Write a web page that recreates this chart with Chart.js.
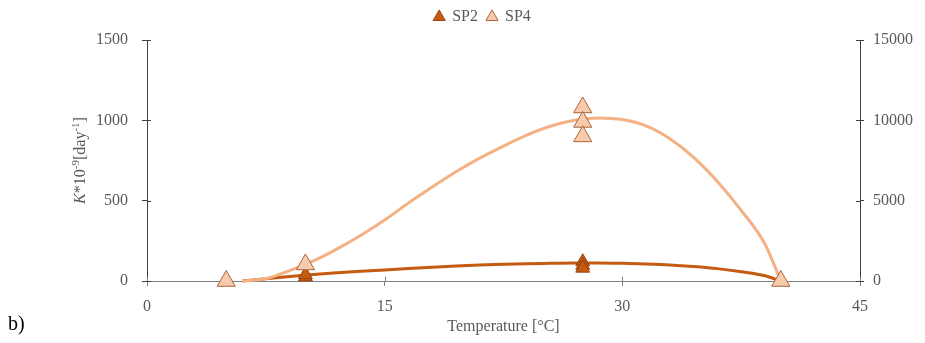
<!DOCTYPE html>
<html>
<head>
<meta charset="utf-8">
<script src="https://cdn.jsdelivr.net/npm/chart.js@4"></script>
<style>
  html, body { margin: 0; padding: 0; background: #fff; }
  #wrap { position: relative; width: 925px; height: 343px; }
  #panel { position: absolute; left: 8px; top: 312px; font: 20px 'Liberation Serif', serif; color: #000; }
</style>
</head>
<body>
<div id="wrap">
  <canvas id="chart" width="925" height="343"></canvas>
  <span id="panel">b)</span>
</div>
<script>
// 測定点
const sp2Temp = [5, 10, 10, 27.5, 27.5, 27.5, 40];
const sp2K = [0, 25, 40, 120, 98, 80, 0];
const sp4Temp = [5, 10, 27.5, 27.5, 27.5, 40];
const sp4K = [0, 1030, 10800, 9900, 9000, 0];

// フィット曲線
const fitTemp = [6, 7.5, 9, 10.5, 12, 13.5, 15, 16.5, 18, 19.5, 21, 22.5, 24, 25.5, 27, 28.5, 30, 31.5, 33, 34.5, 36, 37.5, 39, 40];
const sp2Fit = [0, 14, 28, 40, 51, 60, 69, 78, 86, 93, 99, 104, 108, 110, 112, 112, 110, 106, 100, 90, 77, 58, 33, 0];
const sp4Fit = [0, 150, 650, 1250, 2000, 2850, 3800, 4850, 5850, 6800, 7650, 8400, 9100, 9650, 10000, 10150, 10050, 9650, 8850, 7700, 6200, 4400, 2300, 0];

const xTicks = [0, 15, 30, 45];
const leftTicks = [0, 500, 1000, 1500];
const rightTicks = [0, 5000, 10000, 15000];

const toXY = (xs, ys) => xs.map((x, i) => ({ x, y: ys[i] }));

const tickFont = { family: "'Liberation Serif', serif", size: 16 };
const grey = '#595959';

/**
 * 凡例の位置調整（下に余白、右へ少し寄せる）
 */
const legendNudge = {
  id: 'legendNudge',
  afterInit(chart) {
    const lg = chart.legend;
    const fit = lg.fit;
    lg.fit = function () { fit.call(this); this.height += 5; };
  },
  afterLayout(chart) {
    chart.legend.left += 20;
    chart.legend.right += 20;
  },
};

/**
 * 軸の内側にも目盛りを描く
 */
const crossTicks = {
  id: 'crossTicks',
  afterDraw(chart) {
    const ctx = chart.ctx;
    const len = 4;
    ctx.save();
    ctx.lineWidth = 1;
    ['x', 'y', 'y2'].forEach(id => {
      const s = chart.scales[id];
      ctx.strokeStyle = id === 'x' ? '#808080' : '#404040';
      s.ticks.forEach(t => {
        const p = Math.round(s.getPixelForValue(t.value)) + 0.5;
        ctx.beginPath();
        if (id === 'x') {
          ctx.moveTo(p, s.top);
          ctx.lineTo(p, s.top - len);
        } else if (id === 'y') {
          ctx.moveTo(s.right, p);
          ctx.lineTo(s.right + len, p);
        } else {
          ctx.moveTo(s.left, p);
          ctx.lineTo(s.left - len, p);
        }
        ctx.stroke();
      });
    });
    ctx.restore();
  },
};

/**
 * 縦軸タイトル（K をイタリック）
 */
const yTitle = {
  id: 'yTitle',
  afterDraw(chart) {
    const ctx = chart.ctx;
    const area = chart.chartArea;
    const parts = [
      { text: 'K', font: "italic 16px 'Liberation Serif', serif" },
      { text: '*10', font: "16px 'Liberation Serif', serif" },
      { text: '-9', font: "11px 'Liberation Serif', serif", sup: true },
      { text: '[day', font: "16px 'Liberation Serif', serif" },
      { text: '-1', font: "11px 'Liberation Serif', serif", sup: true },
      { text: ']', font: "16px 'Liberation Serif', serif" },
    ];
    ctx.save();
    let total = 0;
    parts.forEach(p => { ctx.font = p.font; p.w = ctx.measureText(p.text).width; total += p.w; });
    ctx.translate(81, (area.top + area.bottom) / 2);
    ctx.rotate(-Math.PI / 2);
    ctx.fillStyle = grey;
    ctx.textBaseline = 'middle';
    let x = -total / 2;
    parts.forEach(p => {
      ctx.font = p.font;
      ctx.fillText(p.text, x, p.sup ? -5 : 0);
      x += p.w;
    });
    ctx.restore();
  },
};

new Chart(document.getElementById('chart').getContext('2d'), {
  type: 'scatter',
  data: {
    datasets: [
      {
        label: 'SP2',
        data: toXY(sp2Temp, sp2K),
        yAxisID: 'y',
        pointStyle: 'triangle',
        pointRadius: 8,
        backgroundColor: '#C55A11',
        borderColor: '#9A4510',
        borderWidth: 1,
        clip: false,
        order: 1,
      },
      {
        label: 'SP4',
        data: toXY(sp4Temp, sp4K),
        yAxisID: 'y2',
        pointStyle: 'triangle',
        pointRadius: 10.5,
        backgroundColor: '#F8CBAD',
        borderColor: '#A8643C',
        borderWidth: 1,
        clip: false,
        order: 0,
      },
      {
        label: 'SP2 fit',
        data: toXY(fitTemp, sp2Fit),
        yAxisID: 'y',
        showLine: true,
        pointRadius: 0,
        borderColor: '#C55A11',
        borderWidth: 3,
        cubicInterpolationMode: 'monotone',
        clip: false,
        order: 3,
      },
      {
        label: 'SP4 fit',
        data: toXY(fitTemp, sp4Fit),
        yAxisID: 'y2',
        showLine: true,
        pointRadius: 0,
        borderColor: '#F4B183',
        borderWidth: 3,
        cubicInterpolationMode: 'monotone',
        clip: false,
        order: 2,
      },
    ],
  },
  options: {
    responsive: false,
    animation: false,
    layout: { padding: { top: 0, left: 0, right: 0, bottom: 0 } },
    scales: {
      x: {
        type: 'linear',
        min: 0,
        max: 45,
        afterBuildTicks: s => { s.ticks = xTicks.map(v => ({ value: v })); },
        afterFit: s => { s.height = 62; },
        grid: { drawOnChartArea: false, tickLength: 5, color: '#808080' },
        border: { color: '#808080', width: 1 },
        ticks: { font: tickFont, color: grey, padding: 11, callback: v => String(v) },
        title: { display: true, text: 'Temperature [°C]', font: tickFont, color: grey, padding: { top: 0, bottom: 7 } },
      },
      y: {
        position: 'left',
        min: 0,
        max: 1500,
        afterBuildTicks: s => { s.ticks = leftTicks.map(v => ({ value: v })); },
        afterFit: s => { s.width = 147; },
        grid: { drawOnChartArea: false, tickLength: 5, color: '#404040' },
        border: { color: '#404040', width: 1 },
        ticks: { font: tickFont, color: grey, padding: 14, callback: v => String(v) },
      },
      y2: {
        position: 'right',
        min: 0,
        max: 15000,
        afterBuildTicks: s => { s.ticks = rightTicks.map(v => ({ value: v })); },
        afterFit: s => { s.width = 65; },
        grid: { drawOnChartArea: false, tickLength: 4, color: '#404040' },
        border: { color: '#404040', width: 1 },
        ticks: { font: tickFont, color: grey, padding: 9, callback: v => String(v) },
      },
    },
    plugins: {
      legend: {
        position: 'top',
        labels: {
          filter: item => item.datasetIndex < 2,
          sort: (a, b) => a.datasetIndex - b.datasetIndex,
          usePointStyle: true,
          boxWidth: 10,
          boxHeight: 10,
          font: tickFont,
          color: grey,
          padding: 9,
        },
      },
      tooltip: { enabled: false },
    },
  },
  plugins: [legendNudge, crossTicks, yTitle],
});
</script>
</body>
</html>
